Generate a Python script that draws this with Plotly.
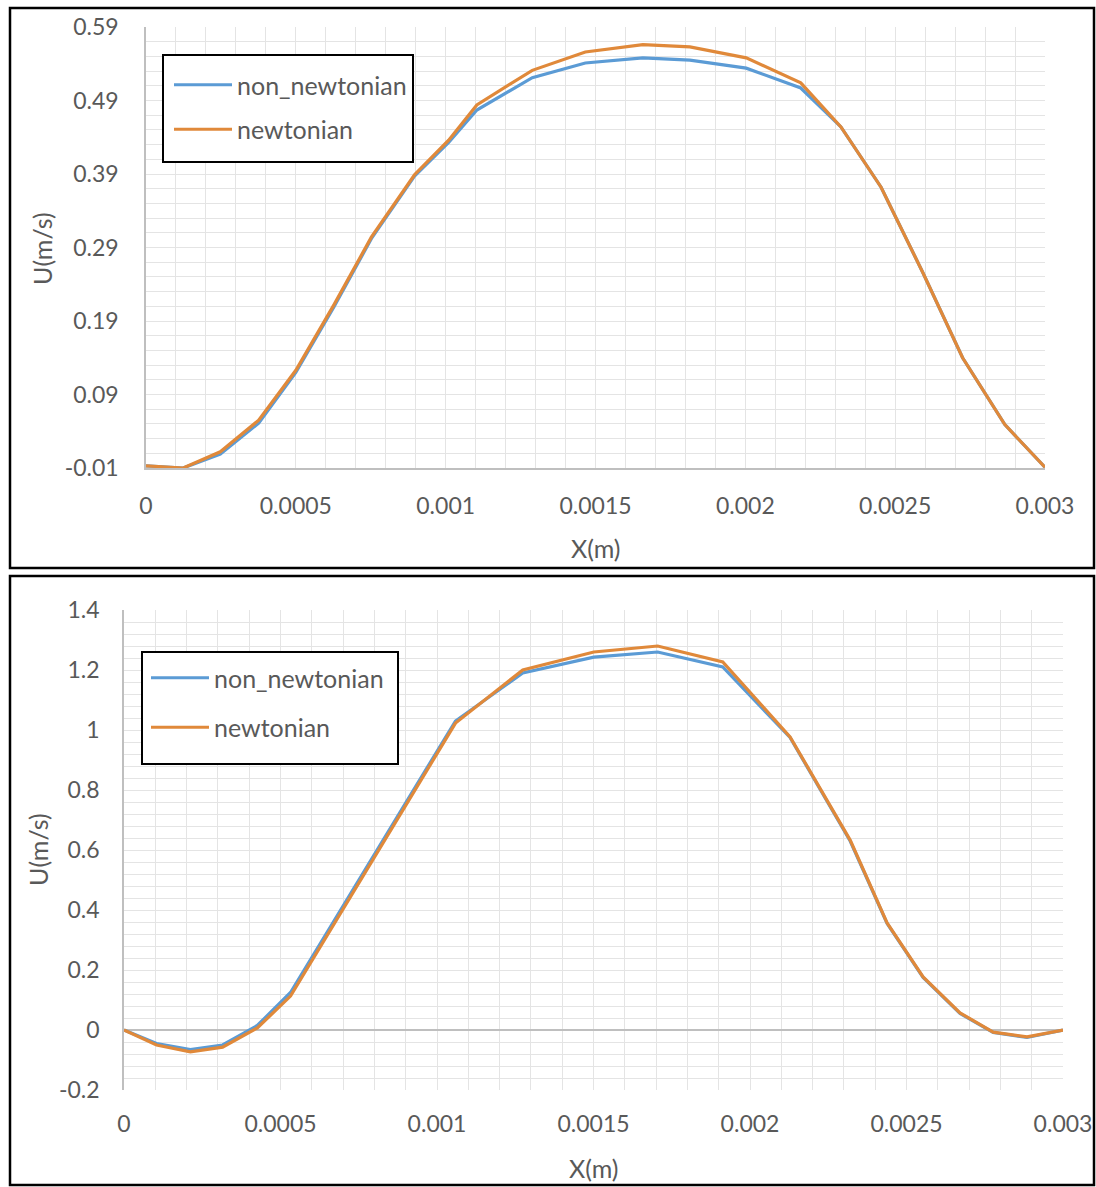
import plotly.graph_objects as go

# ---------------- data: top panel ----------------
top_x = [0, 0.000124, 0.000248, 0.000376, 0.0005, 0.000627, 0.000752, 0.000896, 0.00101,
         0.001104, 0.001289, 0.001466, 0.001658, 0.001815, 0.002003, 0.002185, 0.002319,
         0.002453, 0.002591, 0.002725, 0.002866, 0.003]
top_non_newtonian = [-0.007, -0.01, 0.009, 0.051, 0.12, 0.209, 0.302, 0.387, 0.433,
                     0.477, 0.521, 0.541, 0.548, 0.545, 0.534, 0.507, 0.454,
                     0.372, 0.257, 0.14, 0.049, -0.009]
top_newtonian = [-0.007, -0.01, 0.012, 0.055, 0.123, 0.212, 0.304, 0.389, 0.436,
                 0.484, 0.531, 0.556, 0.566, 0.563, 0.548, 0.514, 0.454,
                 0.372, 0.257, 0.14, 0.049, -0.009]
top_ytick_vals = [-0.01, 0.09, 0.19, 0.29, 0.39, 0.49, 0.59]
top_ytick_text = ["-0.01", "0.09", "0.19", "0.29", "0.39", "0.49", "0.59"]

# ---------------- data: bottom panel ----------------
bot_x = [0, 0.000104, 0.000212, 0.000315, 0.000426, 0.000532, 0.001059, 0.001274,
         0.001501, 0.001705, 0.001913, 0.002128, 0.00232, 0.002438, 0.002553,
         0.002671, 0.002777, 0.002885, 0.003]
bot_non_newtonian = [0, -0.045, -0.065, -0.05, 0.015, 0.125, 1.03, 1.19,
                     1.243, 1.26, 1.21, 0.975, 0.63, 0.355, 0.175,
                     0.055, -0.008, -0.025, 0]
bot_newtonian = [0, -0.05, -0.073, -0.057, 0.007, 0.113, 1.023, 1.2,
                 1.26, 1.28, 1.227, 0.977, 0.633, 0.357, 0.177,
                 0.057, -0.007, -0.023, 0]
bot_ytick_vals = [-0.2, 0, 0.2, 0.4, 0.6, 0.8, 1.0, 1.2, 1.4]
bot_ytick_text = ["-0.2", "0", "0.2", "0.4", "0.6", "0.8", "1", "1.2", "1.4"]

xtick_vals = [0, 0.0005, 0.001, 0.0015, 0.002, 0.0025, 0.003]
xtick_text = ["0", "0.0005", "0.001", "0.0015", "0.002", "0.0025", "0.003"]

series_names = ["non_newtonian", "newtonian"]
BLUE = "#5B9BD5"
ORANGE = "#E0893A"
TXT = "#595959"
GRID = "#E4E4E4"
AXIS = "#BFBFBF"
FONT = "Lato"

W, H = 1096, 1187


def px_x(p):
    return p / W


def px_y(p):
    return 1 - p / H


fig = go.Figure()

fig.add_trace(go.Scatter(x=top_x, y=top_non_newtonian, mode="lines", name=series_names[0],
                         line=dict(color=BLUE, width=3.2), xaxis="x", yaxis="y",
                         legend="legend", legendgroup="a"))
fig.add_trace(go.Scatter(x=top_x, y=top_newtonian, mode="lines", name=series_names[1],
                         line=dict(color=ORANGE, width=3.2), xaxis="x", yaxis="y",
                         legend="legend", legendgroup="b"))
fig.add_trace(go.Scatter(x=bot_x, y=bot_non_newtonian, mode="lines", name=series_names[0],
                         line=dict(color=BLUE, width=3.2), xaxis="x2", yaxis="y2",
                         legend="legend2", legendgroup="c"))
fig.add_trace(go.Scatter(x=bot_x, y=bot_newtonian, mode="lines", name=series_names[1],
                         line=dict(color=ORANGE, width=3.2), xaxis="x2", yaxis="y2",
                         legend="legend2", legendgroup="d"))

tickfont = dict(family=FONT, size=23, color=TXT)

common_x = dict(range=[0, 0.003], tickvals=xtick_vals, ticktext=xtick_text,
                showgrid=True, gridcolor=GRID, gridwidth=1,
                minor=dict(dtick=0.0001, tick0=0, showgrid=True, gridcolor=GRID, gridwidth=1),
                zeroline=False, tickfont=tickfont, ticks="outside",
                tickcolor="rgba(0,0,0,0)", fixedrange=True, automargin=False)

legend_common = dict(xanchor="left", yanchor="top",
                     borderwidth=0, bgcolor="rgba(0,0,0,0)",
                     font=dict(family=FONT, size=25, color=TXT),
                     itemwidth=58)

fig.update_layout(
    width=W, height=H, autosize=False,
    margin=dict(l=0, r=0, t=0, b=0, pad=0, autoexpand=False),
    paper_bgcolor="white", plot_bgcolor="white",
    showlegend=True,
    xaxis=dict(domain=[px_x(146), px_x(1045)], anchor="y", ticklen=17,
               showline=True, linecolor=AXIS, linewidth=1.5, **common_x),
    yaxis=dict(domain=[px_y(468), px_y(27)], anchor="x", range=[-0.01, 0.59],
               tickvals=top_ytick_vals, ticktext=top_ytick_text,
               showgrid=True, gridcolor=GRID, gridwidth=1,
               minor=dict(dtick=0.02, tick0=-0.01, showgrid=True, gridcolor=GRID, gridwidth=1),
               zeroline=False, showline=True, linecolor=AXIS, linewidth=1.5, automargin=False,
               tickfont=tickfont, ticks="outside", ticklen=21, tickcolor="rgba(0,0,0,0)",
               fixedrange=True),
    xaxis2=dict(domain=[px_x(124), px_x(1063)], anchor="y2", ticklen=13,
                showline=False, **common_x),
    yaxis2=dict(domain=[px_y(1090), px_y(610)], anchor="x2", range=[-0.2, 1.4],
                tickvals=bot_ytick_vals, ticktext=bot_ytick_text,
                showgrid=True, gridcolor=GRID, gridwidth=1,
                minor=dict(dtick=0.04, tick0=-0.2, showgrid=True, gridcolor=GRID, gridwidth=1),
                zeroline=True, zerolinecolor=AXIS, zerolinewidth=1.5,
                showline=True, linecolor=AXIS, linewidth=1.5, automargin=False,
                tickfont=tickfont, ticks="outside", ticklen=18, tickcolor="rgba(0,0,0,0)",
                fixedrange=True),
    legend=dict(x=px_x(169), y=px_y(62), tracegroupgap=9, **legend_common),
    legend2=dict(x=px_x(146), y=px_y(655), tracegroupgap=14, **legend_common),
    shapes=[
        dict(type="rect", xref="paper", yref="paper", x0=px_x(10), x1=px_x(1094),
             y0=px_y(568), y1=px_y(8), line=dict(color="black", width=2.5)),
        dict(type="rect", xref="paper", yref="paper", x0=px_x(10), x1=px_x(1094),
             y0=px_y(1185), y1=px_y(576), line=dict(color="black", width=2.5)),
        # legend frames
        dict(type="rect", xref="paper", yref="paper", layer="above",
             x0=px_x(163), x1=px_x(413), y0=px_y(162), y1=px_y(55),
             fillcolor="white", line=dict(color="black", width=2)),
        dict(type="rect", xref="paper", yref="paper", layer="above",
             x0=px_x(142), x1=px_x(398), y0=px_y(764), y1=px_y(652),
             fillcolor="white", line=dict(color="black", width=2)),
    ],
    annotations=[
        dict(text="X(m)", xref="paper", yref="paper", x=px_x(596), y=px_y(548),
             xanchor="center", yanchor="middle",
             showarrow=False, font=dict(family=FONT, size=25, color=TXT)),
        dict(text="U(m/s)", xref="paper", yref="paper", x=px_x(42), y=px_y(249),
             xanchor="center", yanchor="middle",
             showarrow=False, textangle=-90, font=dict(family=FONT, size=25, color=TXT)),
        dict(text="X(m)", xref="paper", yref="paper", x=px_x(594), y=px_y(1168),
             xanchor="center", yanchor="middle",
             showarrow=False, font=dict(family=FONT, size=25, color=TXT)),
        dict(text="U(m/s)", xref="paper", yref="paper", x=px_x(38), y=px_y(850),
             xanchor="center", yanchor="middle",
             showarrow=False, textangle=-90, font=dict(family=FONT, size=25, color=TXT)),
    ],
)

fig.write_html("out.html", config=dict(displayModeBar=False),
               post_script="document.body.style.margin='0';document.body.style.overflow='hidden';")
